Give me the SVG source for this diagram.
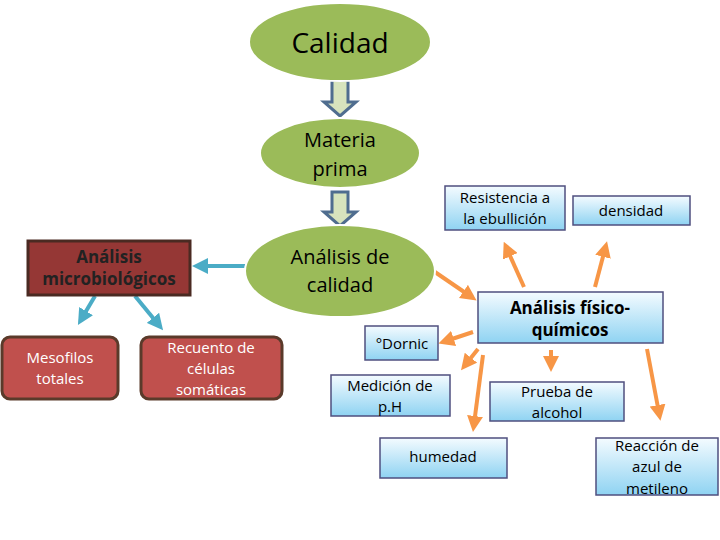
<svg xmlns="http://www.w3.org/2000/svg" width="720" height="540" viewBox="0 0 720 540">
<defs>
<linearGradient id="lb" x1="0" y1="0" x2="0" y2="1"><stop offset="0" stop-color="#f4fbff"/><stop offset="1" stop-color="#8fd3f2"/></linearGradient>
<marker id="mo" viewBox="0 0 10 10" refX="5" refY="5" markerWidth="4" markerHeight="4" orient="auto"><path d="M0,0L10,5L0,10z" fill="#f79646"/></marker>
<marker id="mb" viewBox="0 0 10 10" refX="5" refY="5" markerWidth="4" markerHeight="4" orient="auto"><path d="M0,0L10,5L0,10z" fill="#4bacc6"/></marker>
</defs>
<style>
.ell{fill:#9bbb59;stroke:#fff;stroke-width:2}
.bx{fill:url(#lb);stroke:#4f4f7f;stroke-width:1.5}
.red{fill:#c0504d;stroke:#5a3a2a;stroke-width:3}
.t{font-family:"Open Sans","Liberation Sans",sans-serif;text-anchor:middle}
.o{stroke:#f79646;stroke-width:4;fill:none;marker-end:url(#mo)}
.b{stroke:#4bacc6;stroke-width:4;fill:none;marker-end:url(#mb)}
.blk{fill:#d7e4bd;stroke:#4f6d8f;stroke-width:3}
</style>
<g id="connectors">
<path class="blk" d="M332,80h16v22h8l-16,14l-16,-14h8z"/>
<path class="blk" d="M332,192h16v20h8l-16,14l-16,-14h8z"/>
<path class="b" d="M245,266L200,266"/>
<path class="b" d="M95,296L82,318"/>
<path class="b" d="M135,296L158,324"/>
<path class="o" d="M432,270L470,296"/>
<path class="o" d="M524,287L507,249"/>
<path class="o" d="M595,287L605,249"/>
<path class="o" d="M473,332L446,341"/>
<path class="o" d="M478,349L466,364"/>
<path class="o" d="M483,355L474,424"/>
<path class="o" d="M551,350L551,364"/>
<path class="o" d="M647,349L659,413"/>
</g>
<g id="calidad"><ellipse class="ell" cx="340" cy="42" rx="91" ry="39"/><text class="t" x="340" y="53" font-size="28">Calidad</text></g>
<g id="materia"><ellipse class="ell" cx="340" cy="153" rx="80" ry="35"/><text class="t" x="340" y="147" font-size="20">Materia</text><text class="t" x="340" y="176" font-size="20">prima</text></g>
<g id="analisis-calidad"><ellipse class="ell" cx="340" cy="271" rx="95" ry="46"/><text class="t" x="340" y="264" font-size="20">Análisis de</text><text class="t" x="340" y="292" font-size="20">calidad</text></g>
<g id="micro"><rect x="28" y="241" width="162" height="54" fill="#953735" stroke="#4a2a22" stroke-width="3"/><text class="t" x="109" y="263" font-size="17" font-weight="bold" fill="#222">Análisis</text><text class="t" x="109" y="285" font-size="17" font-weight="bold" fill="#222">microbiológicos</text></g>
<g id="mesofilos"><rect class="red" x="2" y="337" width="116" height="62" rx="8"/><text class="t" x="60" y="363" font-size="15" fill="#fff">Mesofilos</text><text class="t" x="60" y="384" font-size="15" fill="#fff">totales</text></g>
<g id="recuento"><rect class="red" x="141" y="337" width="141" height="62" rx="8"/><text class="t" x="211" y="353" font-size="15" fill="#fff">Recuento de</text><text class="t" x="211" y="374" font-size="15" fill="#fff">células</text><text class="t" x="211" y="395" font-size="15" fill="#fff">somáticas</text></g>
<g id="resistencia"><rect class="bx" x="445" y="186" width="120" height="44"/><text class="t" x="505" y="203" font-size="15">Resistencia a</text><text class="t" x="505" y="224" font-size="15">la ebullición</text></g>
<g id="densidad"><rect class="bx" x="573" y="196" width="117" height="29"/><text class="t" x="631" y="216" font-size="15">densidad</text></g>
<g id="fisico"><rect class="bx" x="478" y="292" width="185" height="51"/><text class="t" x="570" y="314" font-size="17" font-weight="bold">Análisis físico-</text><text class="t" x="570" y="336" font-size="17" font-weight="bold">químicos</text></g>
<g id="dornic"><rect class="bx" x="365" y="326" width="73" height="34"/><text class="t" x="402" y="349" font-size="15">°Dornic</text></g>
<g id="ph"><rect class="bx" x="331" y="375" width="119" height="41"/><text class="t" x="390" y="391" font-size="15">Medición de</text><text class="t" x="390" y="412" font-size="15">p.H</text></g>
<g id="humedad"><rect class="bx" x="380" y="438" width="127" height="40"/><text class="t" x="443" y="462" font-size="15">humedad</text></g>
<g id="alcohol"><rect class="bx" x="490" y="382" width="134" height="39"/><text class="t" x="557" y="397" font-size="15">Prueba de</text><text class="t" x="557" y="418" font-size="15">alcohol</text></g>
<g id="reaccion"><rect class="bx" x="596" y="438" width="122" height="57"/><text class="t" x="657" y="451" font-size="15">Reacción de</text><text class="t" x="657" y="472" font-size="15">azul de</text><text class="t" x="657" y="494" font-size="15">metileno</text></g>
</svg>
